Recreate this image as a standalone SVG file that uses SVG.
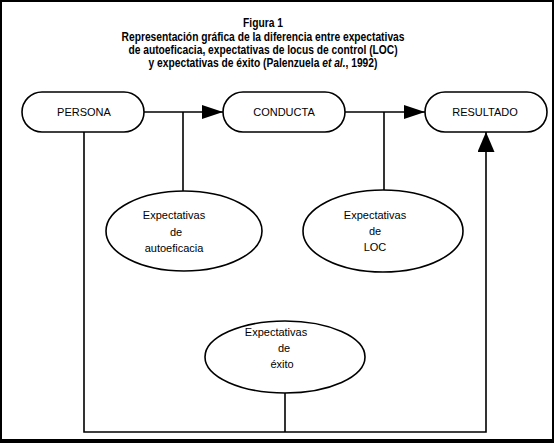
<svg xmlns="http://www.w3.org/2000/svg" width="554" height="443" viewBox="0 0 554 443">
<style>
.title{font-family:"Liberation Sans",Arial,sans-serif;font-weight:bold;font-size:12.5px;fill:#000;text-anchor:middle}
.lbl{font-family:"Liberation Sans",Arial,sans-serif;font-size:11px;fill:#000;text-anchor:middle}
.box{fill:#fff;stroke:#000;stroke-width:1.6}
.line{fill:none;stroke:#000;stroke-width:1.6}
</style>
<defs>
<marker id="arr" markerUnits="userSpaceOnUse" markerWidth="22" markerHeight="16" refX="21" refY="7" orient="auto">
<path d="M0,0 L21,7 L0,14 z" fill="#000"/>
</marker>
<marker id="arrBig" markerUnits="userSpaceOnUse" markerWidth="22" markerHeight="18" refX="20" refY="8.5" orient="auto">
<path d="M0,0 L20,8.5 L0,17 z" fill="#000"/>
</marker>
</defs>
<rect x="0" y="0" width="554" height="443" fill="#000"/>
<rect x="2" y="2" width="550" height="437" fill="#fff"/>
<g id="title" transform="translate(263,0) scale(0.82,1)">
<text class="title" x="0" y="27">Figura 1</text>
<text class="title" x="0" y="41">Representación gráfica de la diferencia entre expectativas</text>
<text class="title" x="0" y="54">de autoeficacia, expectativas de locus de control (LOC)</text>
<text class="title" x="0" y="67">y expectativas de éxito (Palenzuela <tspan font-style="italic">et al.</tspan>, 1992)</text>
</g>
<g id="connectors">
<line class="line" x1="144" y1="112" x2="223" y2="112" marker-end="url(#arr)"/>
<line class="line" x1="345" y1="112" x2="425" y2="112" marker-end="url(#arr)"/>
<line class="line" x1="183" y1="112" x2="183" y2="191"/>
<line class="line" x1="384" y1="112" x2="384" y2="190"/>
<polyline class="line" points="84,132 84,432 486,432 486,132" marker-end="url(#arrBig)"/>
<line class="line" x1="285" y1="393" x2="285" y2="432"/>
</g>
<g id="persona">
<rect class="box" x="22" y="92" width="122" height="40" rx="20"/>
<text class="lbl" x="84" y="116">PERSONA</text>
</g>
<g id="conducta">
<rect class="box" x="223" y="92" width="122" height="40" rx="20"/>
<text class="lbl" x="284" y="116">CONDUCTA</text>
</g>
<g id="resultado">
<rect class="box" x="425" y="92" width="122" height="40" rx="20"/>
<text class="lbl" x="485" y="116">RESULTADO</text>
</g>
<g id="autoeficacia">
<ellipse class="box" cx="184" cy="231" rx="78" ry="40"/>
<text class="lbl" x="174" y="219">Expectativas</text>
<text class="lbl" x="176" y="236">de</text>
<text class="lbl" x="174" y="252">autoeficacia</text>
</g>
<g id="loc">
<ellipse class="box" cx="383" cy="231" rx="80" ry="41"/>
<text class="lbl" x="375" y="219">Expectativas</text>
<text class="lbl" x="375" y="235">de</text>
<text class="lbl" x="375" y="251">LOC</text>
</g>
<g id="exito">
<ellipse class="box" cx="285" cy="357" rx="80" ry="36"/>
<text class="lbl" x="276" y="336">Expectativas</text>
<text class="lbl" x="284" y="352">de</text>
<text class="lbl" x="282" y="368">éxito</text>
</g>
</svg>
